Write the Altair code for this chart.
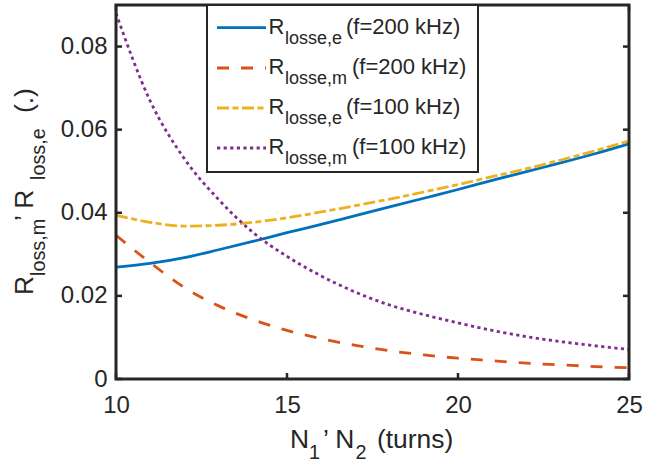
import altair as alt
import pandas as pd

# ---------------- data ----------------
N_turns = list(range(10, 26))
r_e_200 = [0.0269, 0.0278, 0.0292, 0.0311, 0.0331, 0.0352, 0.0372, 0.0393,
           0.0414, 0.0435, 0.0456, 0.0478, 0.0499, 0.0520, 0.0542, 0.0566]
r_m_200 = [0.0346, 0.0280, 0.0220, 0.0176, 0.0143, 0.0117, 0.0097, 0.0081,
           0.0068, 0.0058, 0.0050, 0.0044, 0.0038, 0.0034, 0.0030, 0.0027]
r_e_100 = [0.0394, 0.0377, 0.0368, 0.0370, 0.0377, 0.0388, 0.0402, 0.0417,
           0.0433, 0.0450, 0.0468, 0.0487, 0.0506, 0.0527, 0.0549, 0.0573]
r_m_100 = [0.0880, 0.0669, 0.0530, 0.0432, 0.0353, 0.0295, 0.0248, 0.0209,
           0.0178, 0.0155, 0.0135, 0.0117, 0.0102, 0.0090, 0.0080, 0.0071]

x_ticks = [10, 15, 20, 25]
y_ticks = [0, 0.02, 0.04, 0.06, 0.08]

legend_subs = ["losse,e", "losse,m", "losse,e", "losse,m"]
legend_freqs = ["(f=200 kHz)", "(f=200 kHz)", "(f=100 kHz)", "(f=100 kHz)"]

colors = ["#0072BD", "#D95319", "#EDB120", "#7E2F8E"]
dashes = [None, [12, 12], [12, 3.5, 6, 3.5], [3.2, 3.4]]

FONT = "Liberation Sans"
INK = "#262626"
W, H = 513, 374

xscale = alt.Scale(domain=[10, 25], nice=False, zero=False)
yscale = alt.Scale(domain=[0, 0.09], nice=False, zero=False)

xa = alt.Axis(values=x_ticks, title=None, domain=False, ticks=False, tickSize=0,
              grid=False, labelFontSize=24, labelColor=INK, labelFont=FONT,
              labelPadding=14, labelFlush=False)
ya = alt.Axis(values=y_ticks, title=None, domain=False, ticks=False, tickSize=0,
              grid=False, labelFontSize=24, labelColor=INK, labelFont=FONT,
              labelPadding=9, format=".2~f")


def line_layer(vals, color, dash):
    df = pd.DataFrame({"N": N_turns, "R": vals})
    mk = dict(color=color, strokeWidth=2.8, interpolate="monotone", strokeCap="butt")
    if dash:
        mk["strokeDash"] = dash
    return alt.Chart(df).mark_line(**mk).encode(
        x=alt.X("N:Q", scale=xscale, axis=xa),
        y=alt.Y("R:Q", scale=yscale, axis=ya),
    )


def txt(s, x, y, size, angle=0, color=INK):
    df = pd.DataFrame({"s": [s]})
    mk = dict(align="left", baseline="alphabetic", fontSize=size, color=color, font=FONT)
    if angle:
        mk["angle"] = angle
    return alt.Chart(df).mark_text(**mk).encode(text="s:N", x=alt.value(x), y=alt.value(y))


layers = []
series = [r_e_200, r_m_200, r_e_100, r_m_100]
for i, vals in enumerate(series):
    layers.append(line_layer(vals, colors[i], dashes[i]))

one = pd.DataFrame({"a": [0]})

# frame (box on)
layers.append(alt.Chart(one).mark_rect(fillOpacity=0, stroke=INK, strokeWidth=3).encode(
    x=alt.value(0), x2=alt.value(W), y=alt.value(0), y2=alt.value(H)))

# inward ticks
xt = pd.DataFrame({"N": x_ticks})
yt = pd.DataFrame({"R": y_ticks})
tick_kw = dict(color=INK, strokeWidth=2.5)
layers.append(alt.Chart(xt).mark_rule(**tick_kw).encode(
    x=alt.X("N:Q", scale=xscale, axis=xa), y=alt.value(H), y2=alt.value(H - 6)))
layers.append(alt.Chart(xt).mark_rule(**tick_kw).encode(
    x=alt.X("N:Q", scale=xscale, axis=xa), y=alt.value(0), y2=alt.value(6)))
layers.append(alt.Chart(yt).mark_rule(**tick_kw).encode(
    y=alt.Y("R:Q", scale=yscale, axis=ya), x=alt.value(0), x2=alt.value(6)))
layers.append(alt.Chart(yt).mark_rule(**tick_kw).encode(
    y=alt.Y("R:Q", scale=yscale, axis=ya), x=alt.value(W), x2=alt.value(W - 6)))

# legend box
layers.append(alt.Chart(one).mark_rect(fill="white", stroke=INK, strokeWidth=2).encode(
    x=alt.value(91), x2=alt.value(362), y=alt.value(0), y2=alt.value(167)))

row_y = [22.7, 63, 103, 143]
freq_x = [230, 236, 230, 236]
for i in range(4):
    mk = dict(color=colors[i], strokeWidth=2.8, strokeCap="butt")
    if dashes[i]:
        mk["strokeDash"] = dashes[i]
    layers.append(alt.Chart(one).mark_rule(**mk).encode(
        x=alt.value(101), x2=alt.value(150), y=alt.value(row_y[i])))
    base = row_y[i] + 5.8
    layers.append(txt("R", 152.5, base, 22))
    layers.append(txt(legend_subs[i], 169, base + 10, 18))
    layers.append(txt(legend_freqs[i], freq_x[i], base, 22))

# x-axis title  N1, N2 (turns)
XB = 443
layers.append(txt("N", 174, XB, 26.4))
layers.append(txt("1", 193, XB + 11, 19.8))
layers.append(txt("\u2019 N", 207, XB, 26.4))
layers.append(txt("2", 239.5, XB + 11, 19.8))
layers.append(txt("(turns)", 261, XB, 26.4))

# y-axis title  R_loss,m, R_loss,e (.)
layers.append(txt("R", -83, 290, 26.4, 270))
layers.append(txt("loss,m", -71, 271, 19.8, 270))
layers.append(txt("\u2019  R", -83, 216, 26.4, 270))
layers.append(txt("loss,e", -71, 175, 19.8, 270))
layers.append(txt("(.)", -83, 108, 26.4, 270))

chart = alt.layer(*layers).properties(
    width=W, height=H,
    padding={"left": 116, "top": 5, "right": 16, "bottom": 87},
    autosize=alt.AutoSizeParams(type="none"),
    background="white",
).configure_view(strokeWidth=0).configure(font=FONT)

chart.save("out.html", embed_options={"renderer": "svg", "actions": False})
